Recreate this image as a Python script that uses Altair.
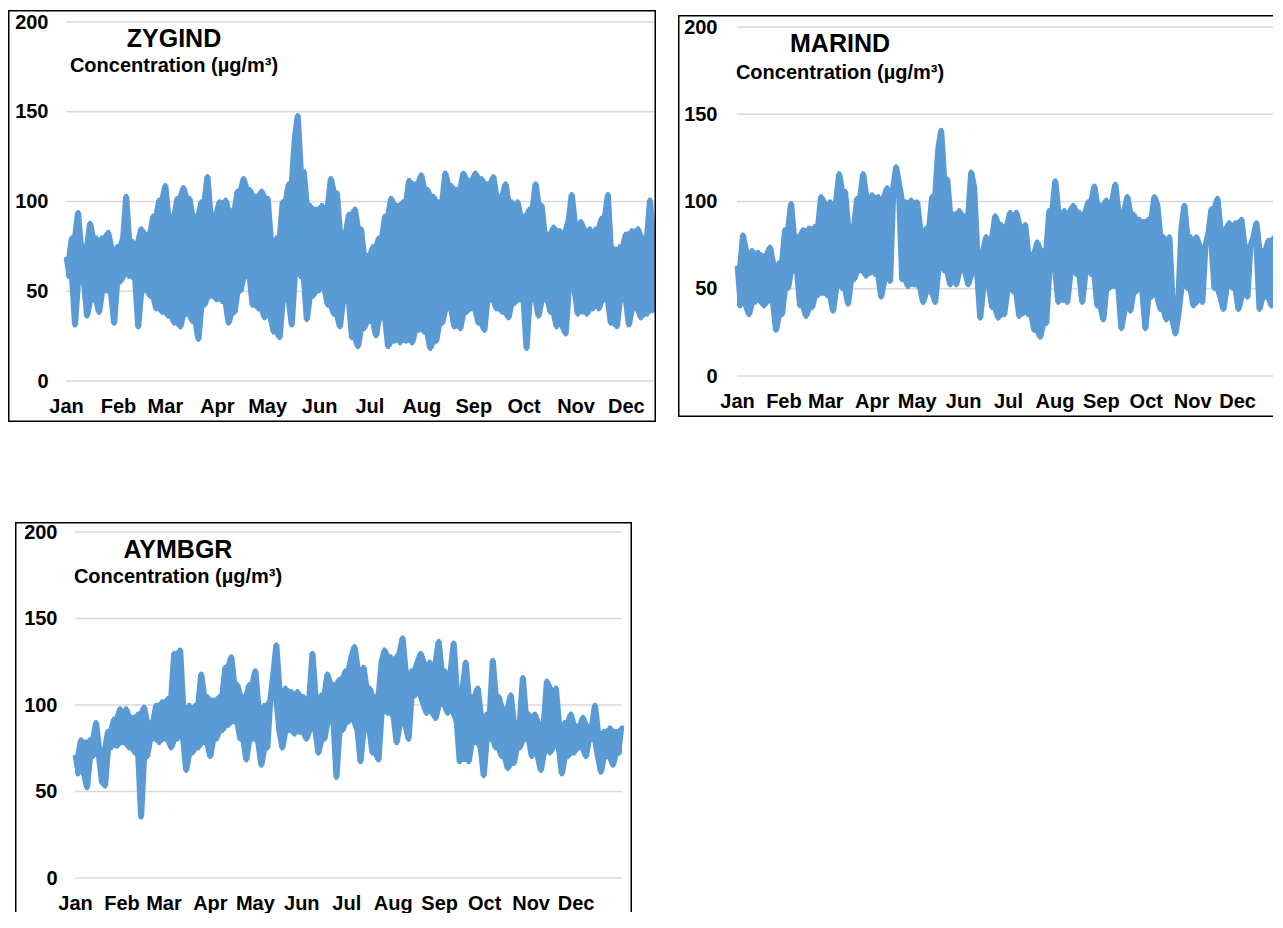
import altair as alt
import numpy as np
import pandas as pd

# ---------------- data ----------------
MONTHS = ["Jan", "Feb", "Mar", "Apr", "May", "Jun", "Jul", "Aug", "Sep", "Oct", "Nov", "Dec"]
MONTH_START_DAYS = [0, 31, 59, 90, 120, 151, 181, 212, 243, 273, 304, 334]
Y_TICKS = [0, 50, 100, 150, 200]
SUBTITLE = "Concentration (µg/m³)"
ZYGIND_LAST_DAY = 352
YEAR_LAST_DAY = 365

zygind_values = [
    68, 58, 80, 31, 94, 55, 75, 36, 88, 45, 80, 38,
    80, 50, 83, 48, 32, 75, 55, 80, 103, 58, 78, 56,
    30, 85, 50, 82, 47, 92, 40, 101, 38, 109, 36, 92,
    32, 102, 30, 108, 37, 102, 33, 92, 23, 100, 42, 114,
    47, 93, 45, 100, 44, 101, 32, 95, 38, 106, 50, 113,
    58, 107, 42, 103, 40, 106,
    35, 102, 40, 27, 80, 24, 100, 45, 110, 31, 135, 148,
    58, 117, 34, 98, 47, 96, 50, 98, 60, 42, 113, 37,
    105, 30, 83, 44, 93, 24, 96, 19, 85, 29, 70, 33,
    75, 25, 80, 35, 92, 19, 102, 22, 98, 21, 100, 22,
    112, 21, 110, 28, 115, 27, 107, 18, 103, 22, 100, 32,
    116, 40, 109, 30, 107,
    29, 116, 38, 112, 40, 116, 32, 113, 28, 110, 45, 114,
    40, 103, 38, 110, 35, 100, 43, 100, 45, 92, 18, 96,
    45, 110, 36, 98, 45, 82, 38, 86, 30, 84, 45, 26,
    90, 104, 50, 37, 89, 45, 37, 85, 40, 85, 40, 91,
    45, 104, 32, 74, 30, 75, 45, 82, 31, 84, 40, 85,
    35, 80, 37, 101, 39, 80,
]

marind_values = [
    62, 40, 81, 45, 35, 72, 42, 71, 50, 40, 70, 74,
    42, 26, 65, 35, 84, 50, 99, 60, 80, 40, 84, 34,
    85, 39, 86, 46, 103, 60, 46, 100, 37, 90, 116, 50,
    106, 41, 86, 55, 102, 60, 116, 57, 80, 104, 58, 103,
    45, 88, 108, 54, 103, 120, 110, 55, 100, 51, 101,
    52, 100, 50, 42, 85, 48, 103, 42, 130, 141, 60, 113,
    52, 93, 52, 95, 60, 92, 52, 117, 108, 58, 33, 72,
    80, 50, 39, 92, 33, 87, 35, 80, 94, 48, 94, 34,
    78, 87, 35, 70, 26, 77, 22, 72, 30, 95, 60, 112,
    42, 85, 95, 42, 80, 98, 58, 94, 42, 80, 100, 58, 109, 40,
    98, 32, 101, 50, 85, 110, 50, 27, 95, 103, 37, 93,
    48, 90, 85, 27, 90, 45, 103, 98, 38, 80, 32, 80,
    45, 24, 35, 85, 98, 50, 80, 40, 80, 55, 42, 75,
    82, 96, 50, 102, 45, 38, 85, 88, 50, 88, 38, 90,
    55, 45, 75, 80, 88, 38, 72, 45, 78, 40, 80, 55, 70, 78,
]

aymbgr_values = [
    70, 60, 80, 62, 52, 80, 70, 90, 75, 55, 53, 85,
    75, 92, 76, 98, 78, 98, 75, 93, 72, 95, 35, 99,
    70, 90, 80, 100, 78, 102, 80, 104, 75, 130, 80, 132,
    82, 62, 100, 72, 100, 75, 118, 78, 105, 70, 103, 80,
    105, 85, 122, 88, 128, 90, 112, 80, 105, 68, 112, 80,
    120, 78, 65, 100, 75, 103, 118, 135, 85, 75, 110, 85,
    108, 83, 108, 84, 105, 80, 102, 130, 85, 72,
    106, 80, 118, 90, 112, 58, 115, 85, 120, 90, 128, 134,
    85, 67, 122, 85, 110, 72, 105, 68, 125, 132, 95, 128,
    93, 78, 130, 139, 88, 80, 120, 105, 125, 130, 100, 95,
    125, 105, 92, 137, 100, 120, 95, 118, 136, 90, 67, 110,
    125, 67, 105, 78, 110, 75, 59, 95, 80, 126, 75, 105,
    70, 98, 63, 106, 66, 90, 75, 116, 80, 95, 70, 95,
    75, 62, 90, 114, 72, 95, 110, 75, 60, 90, 70, 95,
    72, 88, 75, 93, 70, 88, 80, 100, 70, 61, 85, 70,
    87, 65, 85, 72, 87,
]

# ---------------- style ----------------
FONT = "Liberation Sans"
LINE_COLOR = "#5B9BD5"
GRID_COLOR = "#D9D9D9"

month_js = "[" + ",".join("'" + m + "'" for m in MONTHS) + "]"
days_js = "[" + ",".join(str(d) for d in MONTH_START_DAYS) + "]"
MONTH_LABEL_EXPR = month_js + "[indexof(" + days_js + ", datum.value)]"


def panel(name, values, last_day, width, height, x_start, x_end, y_zero, y_top,
          ylab_right, title_cx, title_base, sub_base, open_right=0, open_bottom=0):
    kx = (x_end - x_start) / last_day
    xdom = [-x_start / kx, last_day + (width - x_end) / kx]
    ky = (y_zero - y_top) / 200.0
    ydom = [-(height - y_zero) / ky, 200 + y_top / ky]
    xs = alt.Scale(domain=xdom, nice=False, zero=False)
    ys = alt.Scale(domain=ydom, nice=False, zero=False)

    df = pd.DataFrame({"day": np.linspace(0, last_day, len(values)), "value": values})
    grid_df = pd.DataFrame({"y": Y_TICKS, "x0": [0.0] * len(Y_TICKS),
                            "x1": [float(last_day)] * len(Y_TICKS)})

    x_axis = alt.Axis(values=MONTH_START_DAYS, labelExpr=MONTH_LABEL_EXPR, orient="bottom",
                      offset=(y_zero + 25) - height, labelPadding=0, ticks=False, domain=False,
                      grid=False, title=None, labelFont=FONT, labelFontSize=20,
                      labelFontWeight="bold", labelColor="black", labelBaseline="middle",
                      labelAlign="center", labelOverlap=False, labelFlush=False)
    y_axis = alt.Axis(values=Y_TICKS, orient="left", offset=-ylab_right, labelPadding=0,
                      ticks=False, domain=False, grid=False, title=None, labelFont=FONT,
                      labelFontSize=20, labelFontWeight="bold", labelColor="black",
                      labelAlign="right", labelBaseline="middle", labelOverlap=False,
                      labelFlush=False)

    grid = alt.Chart(grid_df).mark_rule(color=GRID_COLOR, strokeWidth=1.5, clip=True).encode(
        x=alt.X("x0:Q", scale=xs, axis=x_axis),
        x2="x1:Q",
        y=alt.Y("y:Q", scale=ys, axis=y_axis),
    )
    band = alt.Chart(df).transform_window(
        lo="min(value)", hi="max(value)", frame=[-1, 1], sort=[alt.SortField("day")]
    ).mark_area(color=LINE_COLOR, clip=True).encode(
        x=alt.X("day:Q", scale=xs, axis=x_axis),
        y=alt.Y("lo:Q", scale=ys, axis=y_axis),
        y2="hi:Q",
    )
    line = alt.Chart(df).mark_line(color=LINE_COLOR, strokeWidth=4.5, strokeJoin="round",
                                   strokeCap="round", clip=True).encode(
        x=alt.X("day:Q", scale=xs, axis=x_axis),
        y=alt.Y("value:Q", scale=ys, axis=y_axis),
    )
    title = alt.Chart(pd.DataFrame({"t": [name]})).mark_text(
        font=FONT, fontSize=25, fontWeight="bold", align="center", baseline="alphabetic",
        color="black").encode(text="t:N", x=alt.value(title_cx), y=alt.value(title_base))
    sub = alt.Chart(pd.DataFrame({"t": [SUBTITLE]})).mark_text(
        font=FONT, fontSize=20, fontWeight="bold", align="center", baseline="alphabetic",
        color="black").encode(text="t:N", x=alt.value(title_cx), y=alt.value(sub_base))
    frame = alt.Chart(pd.DataFrame({"f": [0]})).mark_rect(
        fillOpacity=0, stroke="black", strokeWidth=3, clip=True).encode(
        x=alt.value(0), x2=alt.value(width + open_right),
        y=alt.value(0), y2=alt.value(height + open_bottom))

    return alt.layer(grid, band, line, title, sub, frame).properties(width=width, height=height)


zyg = panel("ZYGIND", zygind_values, ZYGIND_LAST_DAY, 648, 412, 58, 648, 371, 12, 40,
            166, 37, 62)
mar = panel("MARIND", marind_values, YEAR_LAST_DAY, 595, 402, 59, 605.5, 361, 12, 39,
            162, 37, 64, open_right=20)
aym = panel("AYMBGR", aymbgr_values, YEAR_LAST_DAY, 617, 390, 60, 607, 356, 10, 42,
            163, 36, 61, open_bottom=20)

spacer = alt.Chart(pd.DataFrame({"s": [0]})).mark_rule(strokeOpacity=0).encode(
    x=alt.value(0), x2=alt.value(7), y=alt.value(0)
).properties(width=7, height=10)

top = alt.hconcat(zyg, mar, spacing=22, center=True)
bottom = alt.hconcat(spacer, aym, spacing=0)

chart = alt.vconcat(top, bottom, spacing=100).properties(
    padding={"left": 0, "top": 2, "right": 0, "bottom": 0}
).configure_view(stroke=None)

chart.save("out.html", embed_options={"renderer": "svg", "actions": False})
